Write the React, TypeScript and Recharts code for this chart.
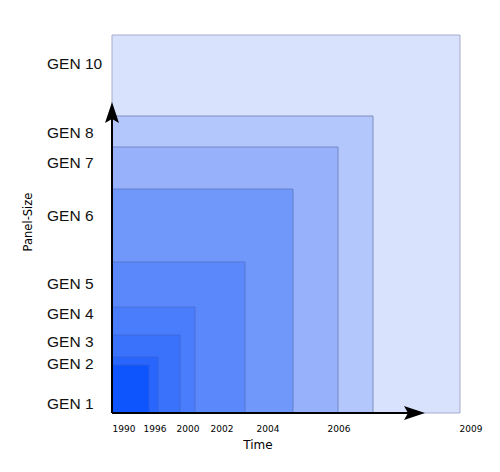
import React from 'react';
import { ComposedChart, XAxis, YAxis, ReferenceArea, ReferenceLine } from 'recharts';

// Generations (GEN 9 does not appear in the picture)
const genNames = ['GEN 10', 'GEN 8', 'GEN 7', 'GEN 6', 'GEN 5', 'GEN 4', 'GEN 3', 'GEN 2', 'GEN 1'];
// Right edge of each panel rectangle (time units on the schematic axis)
const genTimeEnd = [348, 261, 226, 181, 133, 83, 68, 46, 37];
// Top edge of each panel rectangle (panel-size units)
const genSize = [378, 297, 266, 224, 151, 106, 78, 56, 48];
const genFill = ['#d8e2fd', '#b4c7fc', '#97b1fb', '#7098fa', '#5b89fb', '#4a7dfb', '#3a72fb', '#2966fb', '#0f55fd'];
const genStroke = ['#a3abcc', '#7d8fc0', '#7288c4', '#6380cc', '#5676d2', '#4d70d8', '#3f68dc', '#3561e0', '#2a5ae4'];

// Y tick labels: position of each GEN label on the panel-size scale
const yTickValues = [10, 50, 72, 100, 130, 198, 251, 281, 350];
const yTickLabels = ['GEN 1', 'GEN 2', 'GEN 3', 'GEN 4', 'GEN 5', 'GEN 6', 'GEN 7', 'GEN 8', 'GEN 10'];

// X tick labels: position of each year on the schematic time scale
const xTickValues = [12, 43, 76, 110, 156, 227, 359];
const xTickLabels = ['1990', '1996', '2000', '2002', '2004', '2006', '2009'];

const xArrowEnd = 313;
const yArrowEnd = 311;

const ArrowShape = (p: any) => {
  const { x1, y1, x2, y2 } = p;
  const dx = x2 - x1;
  const dy = y2 - y1;
  const len = Math.sqrt(dx * dx + dy * dy) || 1;
  const ux = dx / len;
  const uy = dy / len;
  const px = -uy;
  const py = ux;
  const headLen = 21;
  const half = 7;
  const notch = 4;
  const bx = x2 - ux * headLen;
  const by = y2 - uy * headLen;
  const nx = x2 - ux * (headLen - notch);
  const ny = y2 - uy * (headLen - notch);
  const pts = [
    [x2, y2],
    [bx + px * half, by + py * half],
    [nx, ny],
    [bx - px * half, by - py * half],
  ]
    .map((q) => q.join(','))
    .join(' ');
  return (
    <g>
      <line x1={x1} y1={y1} x2={nx} y2={ny} stroke="#000" strokeWidth={2} />
      <polygon points={pts} fill="#000" />
    </g>
  );
};

const YTick = (p: any) => {
  const { x, y, payload } = p;
  const i = yTickValues.indexOf(payload.value);
  return (
    <text
      x={x - 57}
      y={y}
      dy="0.36em"
      textAnchor="start"
      fontFamily="'Liberation Sans', Arial, sans-serif"
      fontSize={15.5}
      fill="#111"
    >
      {i >= 0 ? yTickLabels[i] : ''}
    </text>
  );
};

export default function App() {
  return (
    <div style={{ position: 'absolute', left: 0, top: 0, width: 500, height: 472, background: '#fff' }}>
      <ComposedChart width={500} height={472} margin={{ top: 35, right: 18, bottom: 0, left: 0 }}>
        <XAxis
          type="number"
          dataKey="x"
          domain={[0, 370]}
          ticks={xTickValues}
          tickFormatter={(v: number) => xTickLabels[xTickValues.indexOf(v)] ?? ''}
          axisLine={false}
          tickLine={false}
          tickSize={0}
          tickMargin={13}
          height={59}
          interval={0}
          tick={{ fontFamily: "'DejaVu Sans', sans-serif", fontSize: 9, fill: '#000' }}
          allowDataOverflow
        />
        <YAxis
          type="number"
          dataKey="y"
          domain={[0, 378]}
          ticks={yTickValues}
          axisLine={false}
          tickLine={false}
          tickSize={0}
          tickMargin={8}
          width={112}
          interval={0}
          tick={<YTick />}
          allowDataOverflow
        />
        {genNames.map((g, i) => (
          <ReferenceArea
            key={g}
            x1={0}
            x2={genTimeEnd[i]}
            y1={0}
            y2={genSize[i]}
            fill={genFill[i]}
            fillOpacity={1}
            stroke={genStroke[i]}
            strokeWidth={1}
            ifOverflow="visible"
          />
        ))}
        <ReferenceLine
          segment={[{ x: 0, y: 0 }, { x: 0, y: yArrowEnd }]}
          shape={<ArrowShape />}
          ifOverflow="visible"
        />
        <ReferenceLine
          segment={[{ x: 0, y: 0 }, { x: xArrowEnd, y: 0 }]}
          shape={<ArrowShape />}
          ifOverflow="visible"
        />
        <text
          x={258}
          y={445}
          dy="0.36em"
          textAnchor="middle"
          fontFamily="'DejaVu Sans', sans-serif"
          fontSize={12}
          fill="#000"
        >
          Time
        </text>
        <text
          x={28}
          y={222}
          dy="0.36em"
          textAnchor="middle"
          transform="rotate(-90 28 222)"
          fontFamily="'DejaVu Sans', sans-serif"
          fontSize={11.5}
          fill="#000"
        >
          Panel-Size
        </text>
      </ComposedChart>
    </div>
  );
}
